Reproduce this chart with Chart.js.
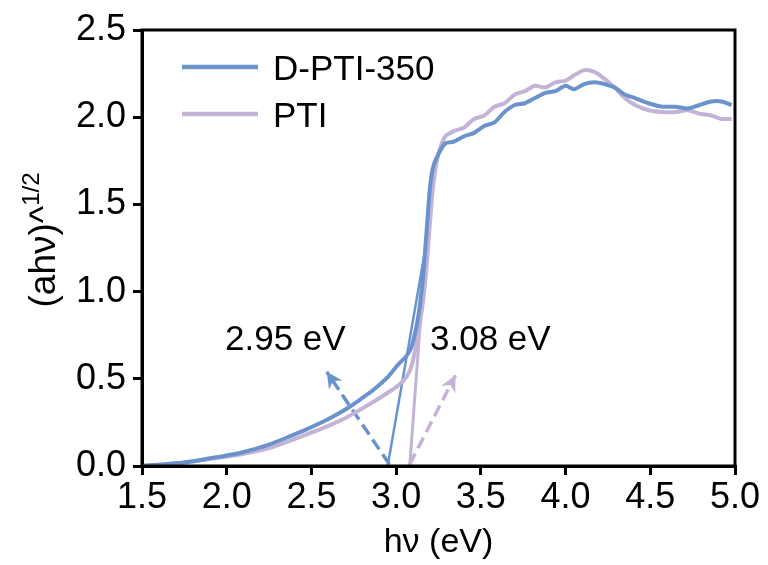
<!DOCTYPE html>
<html>
<head>
<meta charset="utf-8">
<script src="https://cdn.jsdelivr.net/npm/chart.js@4.4.1/dist/chart.umd.min.js"></script>
<style>
  body { margin: 0; background: #fff; }
  #wrap { width: 768px; height: 565px; }
</style>
</head>
<body>
<div id="wrap"><canvas id="chart"></canvas></div>
<script>
// photon energy (eV), shared by both series
const energy = [1.5, 1.75, 1.97, 2.1, 2.24, 2.36, 2.47, 2.6, 2.71, 2.8, 2.87, 2.95, 3.01, 3.06, 3.09, 3.12, 3.14, 3.16, 3.18, 3.2,
  3.22, 3.25, 3.29, 3.34, 3.4, 3.46, 3.52, 3.58, 3.64, 3.7, 3.76, 3.82, 3.88, 3.94, 4.0, 4.05, 4.11, 4.17, 4.23, 4.29,
  4.35, 4.41, 4.49, 4.57, 4.65, 4.72, 4.79, 4.86, 4.92, 4.98];

const dpti350 = [0, 0.02, 0.055, 0.08, 0.12, 0.165, 0.21, 0.27, 0.33, 0.39, 0.44, 0.51, 0.58, 0.63, 0.68, 0.8, 0.92, 1.1, 1.35, 1.6,
  1.72, 1.79, 1.85, 1.86, 1.89, 1.91, 1.95, 1.97, 2.03, 2.07, 2.08, 2.11, 2.14, 2.15, 2.18, 2.16, 2.19, 2.2, 2.19, 2.17,
  2.13, 2.11, 2.08, 2.06, 2.06, 2.05, 2.07, 2.09, 2.09, 2.07];

const pti = [0, 0.02, 0.05, 0.07, 0.1, 0.14, 0.18, 0.23, 0.28, 0.33, 0.37, 0.42, 0.46, 0.51, 0.57, 0.7, 0.82, 0.95, 1.15, 1.4,
  1.62, 1.79, 1.89, 1.92, 1.94, 1.99, 2.01, 2.06, 2.08, 2.13, 2.15, 2.18, 2.17, 2.2, 2.21, 2.24, 2.27, 2.26, 2.22, 2.17,
  2.11, 2.07, 2.04, 2.03, 2.03, 2.04, 2.02, 2.01, 1.99, 1.99];

// tangent lines giving the band gaps
const tangentD = { x: [2.95, 3.17], y: [0, 1.23] };
const tangentP = { x: [3.08, 3.16], y: [0, 1.05] };

// dashed arrows pointing to the labels
const arrowD = { x: [2.96, 2.59], y: [0.01, 0.54] };
const arrowP = { x: [3.08, 3.35], y: [0.01, 0.52] };

const gapLabels = ['2.95 eV', '3.08 eV'];
const xTicks = [1.5, 2.0, 2.5, 3.0, 3.5, 4.0, 4.5, 5.0];
const yTicks = [0.0, 0.5, 1.0, 1.5, 2.0, 2.5];

const blue = '#6b93cb';
const purple = '#c3b3d7';
const font = '"Liberation Sans", Arial, sans-serif';
const fs = 35;
const tickFs = 36;

const toPoints = (xs, ys) => xs.map((x, i) => ({ x: x, y: ys[i] }));

// box, arrow heads, labels, legend and y title
const extras = {
  id: 'extras',
  afterDatasetsDraw(chart) {
    const { ctx, chartArea: a, scales: { x, y } } = chart;
    ctx.save();

    // arrow heads
    [[arrowD, blue], [arrowP, purple]].forEach(([arr, col]) => {
      const x0 = x.getPixelForValue(arr.x[0]), y0 = y.getPixelForValue(arr.y[0]);
      const x1 = x.getPixelForValue(arr.x[1]), y1 = y.getPixelForValue(arr.y[1]);
      const ang = Math.atan2(y1 - y0, x1 - x0);
      ctx.save();
      ctx.translate(x1, y1);
      ctx.rotate(ang);
      ctx.fillStyle = col;
      ctx.beginPath();
      ctx.moveTo(0, 0);
      ctx.lineTo(-16, -8);
      ctx.lineTo(-11, 0);
      ctx.lineTo(-16, 8);
      ctx.closePath();
      ctx.fill();
      ctx.restore();
    });

    // band gap labels
    ctx.fillStyle = '#000';
    ctx.font = fs + 'px ' + font;
    ctx.textBaseline = 'middle';
    ctx.textAlign = 'left';
    ctx.fillText(gapLabels[0], x.getPixelForValue(1.99), y.getPixelForValue(0.72));
    ctx.fillText(gapLabels[1], x.getPixelForValue(3.2), y.getPixelForValue(0.72));

    // legend
    const items = [[chart.data.datasets[0].label, blue, 67], [chart.data.datasets[1].label, purple, 114]];
    items.forEach(([txt, col, ly]) => {
      ctx.strokeStyle = col;
      ctx.lineWidth = 4.5;
      ctx.beginPath();
      ctx.moveTo(182, ly);
      ctx.lineTo(258, ly);
      ctx.stroke();
      ctx.fillText(txt, 273, ly + 3);
    });

    // frame
    ctx.strokeStyle = '#000';
    ctx.lineWidth = 3;
    ctx.strokeRect(a.left, a.top, a.right - a.left, a.bottom - a.top);

    // y title with superscript
    ctx.translate(43, 240);
    ctx.rotate(-Math.PI / 2);
    const main = '(ah\u03bd)^';
    ctx.font = '37px ' + font;
    const w1 = ctx.measureText(main).width;
    ctx.font = '24px ' + font;
    const w2 = ctx.measureText('1/2').width;
    const sx = -(w1 + w2) / 2;
    ctx.font = '37px ' + font;
    ctx.fillText(main, sx, 2);
    ctx.font = '24px ' + font;
    ctx.fillText('1/2', sx + w1, -11);
    ctx.restore();
  }
};

const tickStyle = { color: '#000', lineWidth: 3, tickLength: 9, drawOnChartArea: false, drawTicks: true };

new Chart(document.getElementById('chart'), {
  type: 'line',
  data: {
    datasets: [
      { label: 'D-PTI-350', data: toPoints(energy, dpti350), borderColor: blue, borderWidth: 4, pointRadius: 0, tension: 0.25 },
      { label: 'PTI', data: toPoints(energy, pti), borderColor: purple, borderWidth: 4, pointRadius: 0, tension: 0.25 },
      { label: 'tangent D', data: toPoints(tangentD.x, tangentD.y), borderColor: blue, borderWidth: 2.5, pointRadius: 0 },
      { label: 'tangent P', data: toPoints(tangentP.x, tangentP.y), borderColor: purple, borderWidth: 3, pointRadius: 0 },
      { label: 'arrow D', data: toPoints(arrowD.x, arrowD.y), borderColor: blue, borderWidth: 3.5, borderDash: [12, 6], pointRadius: 0 },
      { label: 'arrow P', data: toPoints(arrowP.x, arrowP.y), borderColor: purple, borderWidth: 3.5, borderDash: [12, 6], pointRadius: 0 }
    ]
  },
  options: {
    responsive: true,
    maintainAspectRatio: false,
    animation: false,
    layout: { padding: { top: 30, right: 33, left: 0, bottom: 0 } },
    plugins: { legend: { display: false }, tooltip: { enabled: false } },
    scales: {
      x: {
        type: 'linear',
        min: 1.5,
        max: 5.0,
        afterBuildTicks: s => { s.ticks = xTicks.map(v => ({ value: v })); },
        afterFit: s => { s.height = 99; },
        grid: tickStyle,
        border: { color: '#000', width: 3 },
        ticks: { color: '#000', font: { family: font, size: tickFs }, padding: 1, callback: v => v.toFixed(1), maxRotation: 0 },
        title: { display: true, text: 'h\u03bd (eV)', color: '#000', font: { family: font, size: 34 }, padding: { top: 0, bottom: 2 } }
      },
      y: {
        min: 0,
        max: 2.5,
        afterBuildTicks: s => { s.ticks = yTicks.map(v => ({ value: v })); },
        afterFit: s => { s.width = 142; },
        grid: tickStyle,
        border: { color: '#000', width: 3 },
        ticks: { color: '#000', font: { family: font, size: tickFs }, padding: 7, callback: v => v.toFixed(1) }
      }
    }
  },
  plugins: [extras]
});
</script>
</body>
</html>
